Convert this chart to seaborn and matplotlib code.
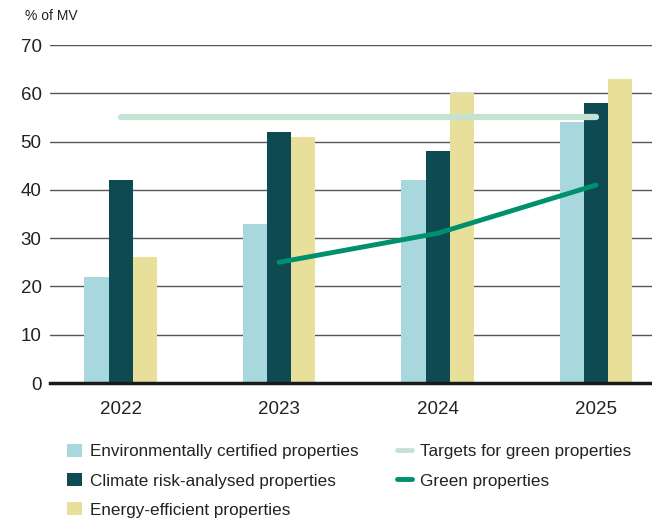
import matplotlib
matplotlib.use("Agg")
import matplotlib.pyplot as plt
from matplotlib.patches import Patch
from matplotlib.lines import Line2D
import seaborn as sns
import pandas as pd

years = ["2022", "2023", "2024", "2025"]
certified = [22, 33, 42, 54]
climate = [42, 52, 48, 58]
energy = [26, 51, 60, 63]
target_years = ["2022", "2023", "2024", "2025"]
target = [55, 55, 55, 55]
green_years = ["2023", "2024", "2025"]
green = [25, 31, 41]

series_names = [
    "Environmentally certified properties",
    "Climate risk-analysed properties",
    "Energy-efficient properties",
]
bar_colors = ["#A8D8DE", "#0D4A52", "#E8E09A"]
target_color = "#C5E3D3"
green_color = "#00906E"
text_color = "#222222"

df = pd.DataFrame({
    "year": years * 3,
    "value": certified + climate + energy,
    "series": [series_names[0]] * 4 + [series_names[1]] * 4 + [series_names[2]] * 4,
})

sns.set_theme(style="white")
plt.rcParams["font.family"] = ["Liberation Sans", "DejaVu Sans"]

fig = plt.figure(figsize=(6.52, 5.2), dpi=100)
ax = fig.add_axes([50 / 652, 1 - 383 / 520, 1 - 50 / 652, (383 - 45) / 520])

sns.barplot(
    data=df, x="year", y="value", hue="series", order=years,
    hue_order=series_names, palette=bar_colors, width=0.455, gap=0,
    saturation=1, ax=ax, legend=False, zorder=3,
    linewidth=0, edgecolor="none",
)

tx = [years.index(y) for y in target_years]
ax.plot(tx, target, color=target_color, lw=4.5, solid_capstyle="round", zorder=4)
gx = [years.index(y) for y in green_years]
ax.plot(gx, green, color=green_color, lw=3.5, solid_capstyle="round", zorder=5)

ax.set_ylim(0, 70)
ax.set_xlim(-0.445, 3.353)
ax.set_yticks(range(0, 71, 10))
ax.yaxis.grid(True, color="#555555", lw=1.0, zorder=0)
ax.set_axisbelow(True)
for s in ["top", "right", "left"]:
    ax.spines[s].set_visible(False)
ax.spines["bottom"].set_color("#1a1a1a")
ax.spines["bottom"].set_linewidth(2.5)
ax.spines["bottom"].set_zorder(6)
ax.tick_params(axis="both", length=0, labelsize=13.5, colors=text_color)
ax.tick_params(axis="x", pad=13)
ax.tick_params(axis="y", pad=6)
ax.set_xlabel("")
ax.set_ylabel("")

fig.text(25 / 652, 1 - 16 / 520, "% of MV", fontsize=10, color=text_color,
         va="center", ha="left")

handles = [
    Patch(facecolor=bar_colors[0], edgecolor="none"),
    Patch(facecolor=bar_colors[1], edgecolor="none"),
    Patch(facecolor=bar_colors[2], edgecolor="none"),
    Line2D([0], [0], color=target_color, lw=3.5, solid_capstyle="round"),
    Line2D([0], [0], color=green_color, lw=3.5, solid_capstyle="round"),
]
labels = series_names + ["Targets for green properties", "Green properties"]
fig.legend(
    handles, labels, ncol=2, loc="upper left",
    bbox_to_anchor=(67 / 652, 1 - 444 / 520), frameon=False,
    borderpad=0, borderaxespad=0,
    fontsize=12.3, labelcolor=text_color, handlelength=0.85, handleheight=0.8,
    handletextpad=0.5, columnspacing=2.25, labelspacing=0.8,
)

fig.savefig("out.png", dpi=100)
